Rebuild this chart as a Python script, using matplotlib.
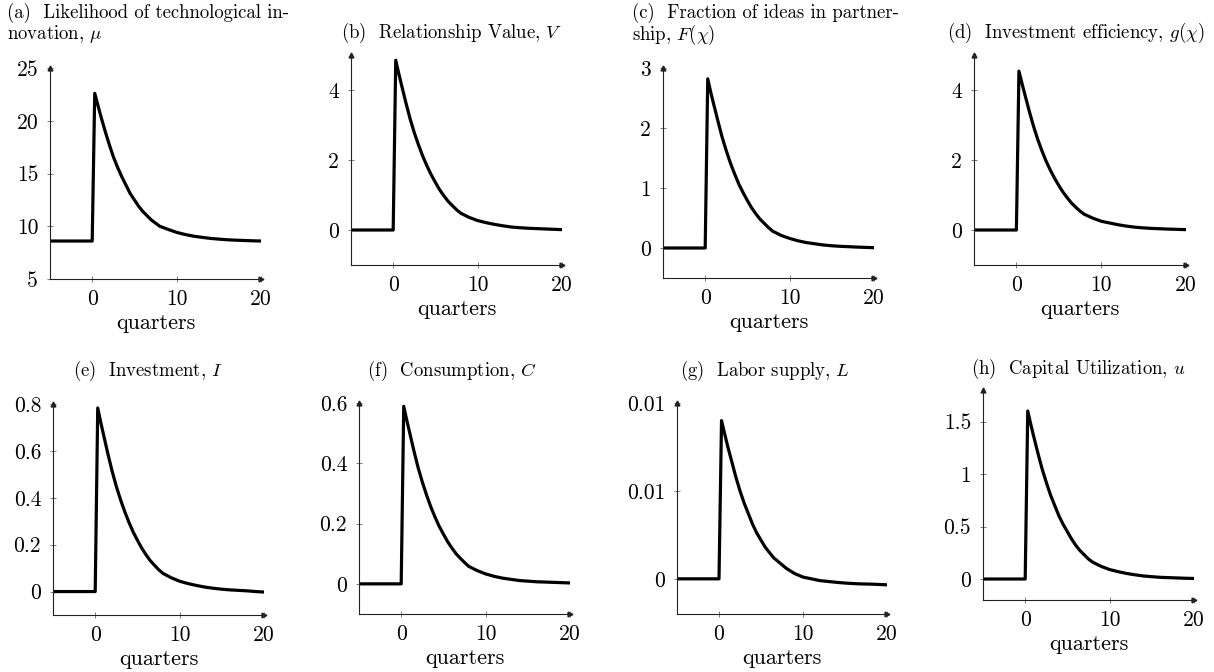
import matplotlib.pyplot as plt

plt.rcParams["font.family"] = "cmr10"
plt.rcParams["mathtext.fontset"] = "cm"
plt.rcParams["axes.formatter.use_mathtext"] = True

# impulse responses
quarters = [-5, -4, -3, -2, -1, 0, 0.3, 0.7, 1, 1.5, 2, 2.5, 3, 3.5, 4, 4.5, 5, 5.5, 6, 6.5, 7, 7.5, 8,
            9, 10, 11, 12, 13, 14, 15, 16, 17, 18, 19, 20]

mu = [8.6, 8.6, 8.6, 8.6, 8.6, 8.6,
      22.6, 21.4, 20.5, 19.1, 17.8, 16.6, 15.6, 14.7, 13.9, 13.1, 12.5, 11.9, 11.4, 11.0, 10.6, 10.3, 10.0,
      9.7, 9.42, 9.22, 9.06, 8.95, 8.85, 8.78, 8.72, 8.68, 8.65, 8.62, 8.6]
V = [0, 0, 0, 0, 0, 0,
     4.85, 4.43, 4.13, 3.64, 3.18, 2.78, 2.43, 2.11, 1.83, 1.58, 1.36, 1.15, 0.98, 0.82, 0.70, 0.58, 0.48,
     0.36, 0.27, 0.21, 0.16, 0.12, 0.085, 0.065, 0.05, 0.04, 0.03, 0.02, 0.01]
F_chi = [0, 0, 0, 0, 0, 0,
         2.82, 2.57, 2.40, 2.12, 1.85, 1.62, 1.41, 1.23, 1.06, 0.92, 0.79, 0.67, 0.57, 0.48, 0.41, 0.34, 0.28,
         0.21, 0.16, 0.12, 0.09, 0.07, 0.05, 0.037, 0.028, 0.022, 0.015, 0.01, 0.005]
g_chi = [0, 0, 0, 0, 0, 0,
         4.54, 4.15, 3.87, 3.41, 2.98, 2.60, 2.27, 1.97, 1.71, 1.48, 1.27, 1.08, 0.92, 0.77, 0.65, 0.54, 0.45,
         0.34, 0.25, 0.2, 0.15, 0.11, 0.08, 0.06, 0.045, 0.035, 0.025, 0.018, 0.01]
I_inv = [0, 0, 0, 0, 0, 0,
         0.783, 0.715, 0.667, 0.588, 0.514, 0.449, 0.392, 0.341, 0.295, 0.254, 0.219, 0.186, 0.158, 0.133,
         0.113, 0.094, 0.078,
         0.059, 0.044, 0.034, 0.026, 0.019, 0.014, 0.01, 0.007, 0.005, 0.003, 0.0, -0.002]
C_cons = [0, 0, 0, 0, 0, 0,
          0.589, 0.538, 0.502, 0.442, 0.386, 0.338, 0.295, 0.256, 0.222, 0.191, 0.165, 0.140, 0.119, 0.100,
          0.085, 0.071, 0.058,
          0.044, 0.033, 0.025, 0.019, 0.015, 0.011, 0.009, 0.007, 0.006, 0.005, 0.004, 0.003]
L_lab = [0, 0, 0, 0, 0, 0,
         0.0090, 0.0082, 0.0076, 0.0067, 0.0058, 0.0050, 0.0043, 0.0037, 0.0031, 0.0026, 0.0022, 0.0018,
         0.0015, 0.0012, 0.0010, 0.0008, 0.0006,
         0.0003, 0.0001, 0.0, -0.0001, -0.00015, -0.0002, -0.00024, -0.00027, -0.00029, -0.0003, -0.00032,
         -0.00034]
u_cap = [0, 0, 0, 0, 0, 0,
         1.60, 1.46, 1.36, 1.20, 1.05, 0.92, 0.80, 0.70, 0.60, 0.52, 0.45, 0.38, 0.32, 0.27, 0.23, 0.19, 0.16,
         0.12, 0.09, 0.07, 0.053, 0.04, 0.029, 0.022, 0.016, 0.013, 0.01, 0.007, 0.005]

series = [mu, V, F_chi, g_chi, I_inv, C_cons, L_lab, u_cap]
ylims = [(5, 25), (-1, 5), (-0.5, 3), (-1, 5), (-0.1, 0.8), (-0.1, 0.6), (-0.002, 0.01), (-0.2, 1.8)]
yticks = [[5, 10, 15, 20, 25], [0, 2, 4], [0, 1, 2, 3], [0, 2, 4],
          [0, 0.2, 0.4, 0.6, 0.8], [0, 0.2, 0.4, 0.6], [0, 0.005, 0.01], [0, 0.5, 1, 1.5]]
yticklabels = [["5", "10", "15", "20", "25"], ["0", "2", "4"], ["0", "1", "2", "3"], ["0", "2", "4"],
               ["0", "0.2", "0.4", "0.6", "0.8"], ["0", "0.2", "0.4", "0.6"], ["0", "0.01", "0.01"],
               ["0", "0.5", "1", "1.5"]]
titles = [r"(a)  Likelihood of technological in-" + "\n" + r"novation, $\mu$",
          r"(b)  Relationship Value, $V$",
          r"(c)  Fraction of ideas in partner-" + "\n" + r"ship, $F(\chi)$",
          r"(d)  Investment efficiency, $g(\chi)$",
          r"(e)  Investment, $I$",
          r"(f)  Consumption, $C$",
          r"(g)  Labor supply, $L$",
          r"(h)  Capital Utilization, $u$"]

W, H = 1214, 672
fig = plt.figure(figsize=(W / 100, H / 100), dpi=100)

# axes boxes in pixels: left, top, right, bottom
boxes = [(50, 68, 261, 279), (351, 55, 562, 265), (663, 68, 874, 278), (974, 55, 1186, 265),
         (53, 404, 264, 615), (359, 403, 570, 614), (677, 403, 887, 614), (983, 390, 1194, 600)]

for i, (l, t, r, b) in enumerate(boxes):
    ax = fig.add_axes([l / W, 1 - b / H, (r - l) / W, (b - t) / H])
    ax.plot(quarters, series[i], color="black", lw=2.3)
    ax.set_xlim(-5, 20)
    ax.set_ylim(*ylims[i])
    ax.set_xticks([0, 10, 20])
    ax.set_xticklabels(["0", "10", "20"])
    ax.set_yticks(yticks[i])
    ax.set_yticklabels(yticklabels[i])
    ax.spines["top"].set_visible(False)
    ax.spines["right"].set_visible(False)
    for s in ("left", "bottom"):
        ax.spines[s].set_linewidth(0.8)
        ax.spines[s].set_color("#222222")
    ax.tick_params(direction="inout", length=5, width=0.6, color="#666666",
                   labelsize=15.5)
    ax.tick_params(axis="y", pad=6)
    ax.tick_params(axis="x", pad=5)
    ax.set_xlabel("quarters", fontsize=16, labelpad=3)
    ax.plot(1, 0, ">", color="#222222", ms=3.5, transform=ax.transAxes, clip_on=False)
    ax.plot(0, 1, "^", color="#222222", ms=3.5, transform=ax.transAxes, clip_on=False)

# sub-captions
fig.text(7 / W, 1 - 3 / H, titles[0], ha="left", va="top", fontsize=13.5, linespacing=0.98)
fig.text(452 / W, 1 - 33 / H, titles[1], ha="center", va="center", fontsize=13.5)
fig.text(632 / W, 1 - 3 / H, titles[2], ha="left", va="top", fontsize=13.5, linespacing=0.98)
fig.text(1076 / W, 1 - 33 / H, titles[3], ha="center", va="center", fontsize=13.5)
fig.text(148 / W, 1 - 371 / H, titles[4], ha="center", va="center", fontsize=13.5)
fig.text(452 / W, 1 - 371 / H, titles[5], ha="center", va="center", fontsize=13.5)
fig.text(765 / W, 1 - 371 / H, titles[6], ha="center", va="center", fontsize=13.5)
fig.text(1078 / W, 1 - 369 / H, titles[7], ha="center", va="center", fontsize=13.5)

fig.savefig("out.png", dpi=100)
